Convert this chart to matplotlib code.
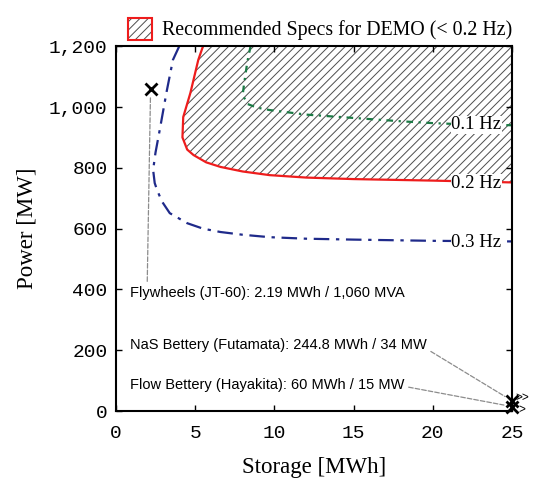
import numpy as np
import matplotlib.pyplot as plt
from matplotlib.patches import Patch, Polygon
from matplotlib.legend_handler import HandlerTuple

# contour lines (storage MWh, power MW)
red_x = [5.5, 5.2, 4.7, 4.25, 4.2, 4.5, 4.9, 5.7, 6.6, 8.0, 9.7, 12, 15, 20, 25]
red_y = [1200, 1155, 1046, 967, 900, 860, 842, 818, 803, 788, 776, 768, 763, 758, 752]

green_x = [8.5, 8.3, 8.1, 8.0, 8.3, 8.9, 9.7, 12, 15, 18, 20, 22, 25]
green_y = [1200, 1150, 1080, 1040, 1010, 998, 990, 975, 964, 953, 947, 943, 940]

blue_x = [4.0, 3.6, 3.2, 2.8, 2.5, 2.35, 2.45, 2.6, 2.9, 3.4, 4.5, 5.5, 6.6, 8.0, 9.7, 12, 15, 20, 25]
blue_y = [1200, 1155, 1050, 934, 850, 793, 750, 727, 690, 651, 618, 600, 589, 580, 572, 567, 564, 560, 558]

hz_labels = ['0.1 Hz', '0.2 Hz', '0.3 Hz']
hz_y = [941, 750, 556]

fly = (2.19, 1060)
nas = (25, 34)
flow = (25, 15)

plt.rcParams['font.family'] = 'Liberation Serif'
plt.rcParams['hatch.linewidth'] = 0.7

fig = plt.figure(figsize=(5.34, 4.86), dpi=100)
ax = fig.add_axes([0.217, 0.154, 0.742, 0.751])

# hatched recommended region above the 0.2 Hz line
poly = list(zip(red_x, red_y)) + [(25, 1200)]
ax.add_patch(Polygon(poly, closed=True, facecolor='none', edgecolor='0.3',
                     hatch='////', linewidth=0))

ax.plot(blue_x, blue_y, color='#1f2a8a', lw=1.6, ls=(0, (7, 3, 1.5, 3)))
ax.plot(green_x, green_y, color='#1b7a45', lw=1.6, ls=(0, (3, 2.5, 1, 2.5)))
ax.plot(red_x, red_y, color='#ee1c1c', lw=1.6)

for lab, yy in zip(hz_labels, hz_y):
    ax.text(22.75, yy, lab, fontsize=13.5, ha='center', va='center',
            bbox=dict(facecolor='white', edgecolor='none', pad=0.5))

# devices
ax.plot(*fly, marker='x', color='black', ms=9, mew=2)
ax.plot(*nas, marker='x', color='black', ms=9, mew=2, clip_on=False, zorder=5)
ax.plot(*flow, marker='x', color='black', ms=9, mew=2, clip_on=False, zorder=5)
ax.text(25.2, nas[1] + 8, '>>', fontsize=8.5, family='Liberation Sans', va='center', clip_on=False)
ax.text(25.4, flow[1] - 10, '>', fontsize=8.5, family='Liberation Sans', va='center', clip_on=False)

ann = dict(arrowstyle='-', ls='--', color='0.55', lw=0.9, shrinkA=1, shrinkB=6)
ax.annotate('Flywheels (JT-60): 2.19 MWh / 1,060 MVA', xy=fly, xytext=(0.9, 390),
            fontsize=10.5, family='Liberation Sans', va='center',
            arrowprops=dict(ann, relpos=(0.062, 1.0)))
ax.annotate('NaS Bettery (Futamata): 244.8 MWh / 34 MW', xy=nas, xytext=(0.9, 218),
            fontsize=10.5, family='Liberation Sans', va='center',
            arrowprops=dict(ann, relpos=(1.0, 0.2)))
ax.annotate('Flow Bettery (Hayakita): 60 MWh / 15 MW', xy=flow, xytext=(0.9, 86),
            fontsize=10.5, family='Liberation Sans', va='center',
            arrowprops=dict(ann, relpos=(1.0, 0.4)))

ax.set_xlim(0, 25)
ax.set_ylim(0, 1200)
ax.set_xticks(np.arange(0, 26, 5))
ax.set_yticks(np.arange(0, 1201, 200))
ax.set_yticklabels([f'{v:,}' for v in range(0, 1201, 200)])
ax.tick_params(direction='in', top=True, right=True, length=4, width=1, labelsize=14)
ax.tick_params(axis='x', pad=10)
ax.tick_params(axis='y', pad=6)
for lab in ax.get_xticklabels() + ax.get_yticklabels():
    lab.set_family('Liberation Mono')
for s in ax.spines.values():
    s.set_linewidth(1.5)

ax.set_xlabel('Storage [MWh]', fontsize=16.5, labelpad=11)
ax.set_ylabel('Power [MW]', fontsize=16.5, labelpad=8)

hatch_h = Patch(facecolor='white', edgecolor='0.3', hatch='////', linewidth=0)
edge_h = Patch(facecolor='none', edgecolor='#ee1c1c', linewidth=1.5)
fig.legend([(hatch_h, edge_h)], ['Recommended Specs for DEMO (< 0.2 Hz)'],
           handler_map={tuple: HandlerTuple(ndivide=1)},
           loc='upper left', bbox_to_anchor=(0.207, 1.0), frameon=False,
           fontsize=14.3, handlelength=1.2, handleheight=1.3, handletextpad=0.5)

fig.savefig('out.png', dpi=100)
